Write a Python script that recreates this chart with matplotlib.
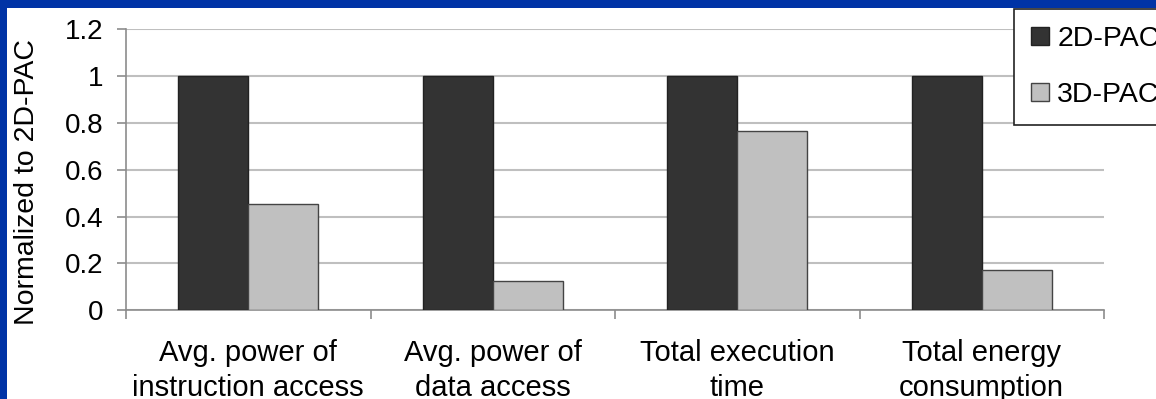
import matplotlib
matplotlib.use("Agg")
import matplotlib.pyplot as plt
from matplotlib.patches import Rectangle
import numpy as np

plt.rcParams['font.family'] = ['Liberation Sans', 'DejaVu Sans']

categories = ["Avg. power of\ninstruction access", "Avg. power of\ndata access",
              "Total execution\ntime", "Total energy\nconsumption"]
series_names = ["2D-PAC", "3D-PAC"]
pac_2d = [1.0, 1.0, 1.0, 1.0]
pac_3d = [0.453, 0.125, 0.767, 0.172]
yticks = [0, 0.2, 0.4, 0.6, 0.8, 1, 1.2]
ytick_labels = ["0", "0.2", "0.4", "0.6", "0.8", "1", "1.2"]

W, H = 1156, 399
fig = plt.figure(figsize=(W / 100, H / 100), dpi=100, facecolor='#0033A6')
# white slide panel inside the blue frame
fig.patches.append(Rectangle((7 / W, 0), 1, 1 - 8 / H, transform=fig.transFigure,
                             facecolor='white', edgecolor='none', zorder=-10))

ax = fig.add_axes([126 / W, 1 - 310.3 / H, (1104 - 126) / W, (310.3 - 29.3) / H])
ax.set_facecolor('none')

x = np.arange(len(categories))
bw = 1 / 3.5  # gap width 150%
ax.bar(x - bw / 2, pac_2d, bw, color='#333333', edgecolor='#222222', linewidth=1,
       label=series_names[0], zorder=3)
ax.bar(x + bw / 2, pac_3d, bw, color='#C0C0C0', edgecolor='#444444', linewidth=1,
       label=series_names[1], zorder=3)

ax.set_xlim(-0.5, len(categories) - 0.5)
ax.set_ylim(0, 1.2)
ax.set_yticks(yticks)
ax.set_yticklabels(ytick_labels)
ax.yaxis.grid(True, color='#BFBFBF', linewidth=1.5, zorder=1)
ax.set_axisbelow(True)

# boundaries between categories carry the tick marks, labels sit at centres
ax.set_xticks(np.arange(-0.5, len(categories), 1.0))
ax.set_xticklabels([])
ax.set_xticks(x, minor=True)
ax.set_xticklabels(categories, minor=True, fontsize=21, linespacing=1.28)
ax.tick_params(axis='x', which='minor', length=0, pad=21)
ax.tick_params(axis='x', which='major', length=6.5, width=1.2, color='#8C8C8C')
ax.tick_params(axis='y', length=6.5, width=1.2, color='#8C8C8C', labelsize=20, pad=10)

for side in ('top', 'right'):
    ax.spines[side].set_visible(False)
for side in ('left', 'bottom'):
    ax.spines[side].set_color('#8C8C8C')
    ax.spines[side].set_linewidth(1.2)

ax.set_ylabel("Normalized to 2D-PAC", fontsize=20.5)
ax.yaxis.set_label_coords(-86 / (1104 - 126), 0.457)

leg = fig.legend(loc='upper left', bbox_to_anchor=(1014 / W, 1 - 9 / H), fontsize=20.5,
                 frameon=True, fancybox=False, edgecolor='#222222', framealpha=1,
                 handlelength=0.62, handleheight=0.62, handletextpad=0.3,
                 labelspacing=1.05, borderpad=0.6, borderaxespad=0)
leg.get_frame().set_linewidth(1.2)

fig.savefig("out.png", dpi=100, facecolor=fig.get_facecolor())
